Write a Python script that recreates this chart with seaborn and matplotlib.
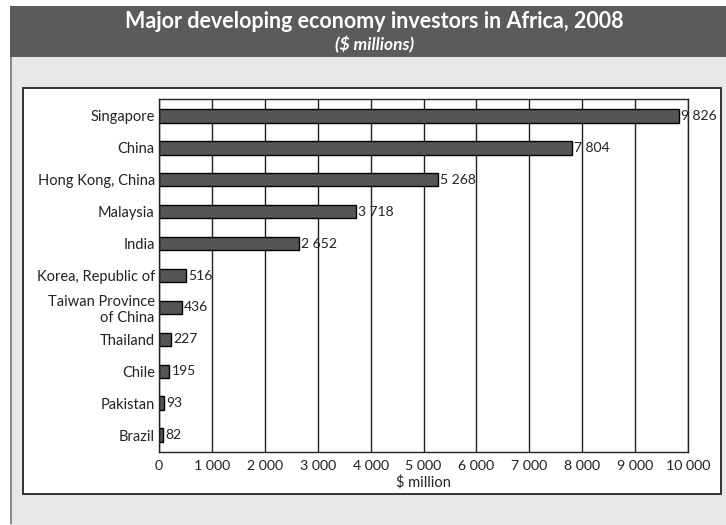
import matplotlib
matplotlib.use("Agg")
import pandas as pd
import seaborn as sns
from matplotlib import pyplot as plt
from matplotlib.patches import Rectangle

# data
countries = ["Singapore", "China", "Hong Kong, China", "Malaysia", "India",
             "Korea, Republic of", "Taiwan Province\nof China", "Thailand",
             "Chile", "Pakistan", "Brazil"]
investment = [9826, 7804, 5268, 3718, 2652, 516, 436, 227, 195, 93, 82]
x_ticks = list(range(0, 10001, 1000))

df = pd.DataFrame({"country": countries, "usd_m": investment})

sns.set_theme(style="white")
plt.rcParams["font.family"] = ["Lato", "DejaVu Sans"]

W, H = 726, 525
fig = plt.figure(figsize=(W / 100, H / 100), dpi=100)
fig.patch.set_facecolor("white")

def frect(x0, y0, x1, y1, **kw):
    # pixel box (top-left origin) -> figure rectangle
    fig.patches.append(Rectangle((x0 / W, 1 - y1 / H), (x1 - x0) / W, (y1 - y0) / H,
                                 transform=fig.transFigure, figure=fig, **kw))

# title band, grey panel, white inner box
frect(10, 6, 726, 57, facecolor="#5b5b59", edgecolor="none", zorder=-2)
frect(10, 57, 726, 525, facecolor="#e8e8e8", edgecolor="none", zorder=-2)
frect(10, 57, 11.5, 524, facecolor="#8a8a8a", edgecolor="none", zorder=-2)
frect(23, 88, 721, 494, facecolor="white", edgecolor="#333333", linewidth=1.4, zorder=-1)

fig.text(374 / W, 1 - 21 / H, "Major developing economy investors in Africa, 2008",
         color="white", fontsize=15.5, fontweight="bold", ha="center", va="center")
fig.text(375 / W, 1 - 45 / H, "($ millions)", color="white", fontsize=12.5,
         fontweight="bold", style="italic", ha="center", va="center")

ax = fig.add_axes([159 / W, 1 - 452 / H, (688 - 159) / W, (452 - 99) / H])
ax.set_zorder(2)
ax.set_facecolor("white")
sns.barplot(data=df, x="usd_m", y="country", orient="h", color="#555555",
            edgecolor="black", linewidth=1, width=0.42, saturation=1, ax=ax)

labels = [f"{v:,}".replace(",", " ") for v in investment]
ax.bar_label(ax.containers[0], labels=labels, padding=1.5, fontsize=10, color="#222222")

ax.set_xlim(0, 10000)
ax.set_ylim(len(countries) - 0.47, -0.53)
ax.set_xticks(x_ticks)
ax.set_xticklabels([f"{t:,}".replace(",", " ") for t in x_ticks])
ax.xaxis.grid(True, color="#222222", linewidth=1)
ax.set_axisbelow(True)
ax.tick_params(axis="y", length=0, labelsize=10.5, colors="#222222", pad=3)
ax.tick_params(axis="x", length=0, labelsize=10.2, colors="#222222", pad=6)
for s in ax.spines.values():
    s.set_color("#222222")
    s.set_linewidth(1)
ax.set_xlabel("$ million", fontsize=10.5, color="#222222", labelpad=2)
ax.set_ylabel("")

fig.savefig("out.png", dpi=100)
